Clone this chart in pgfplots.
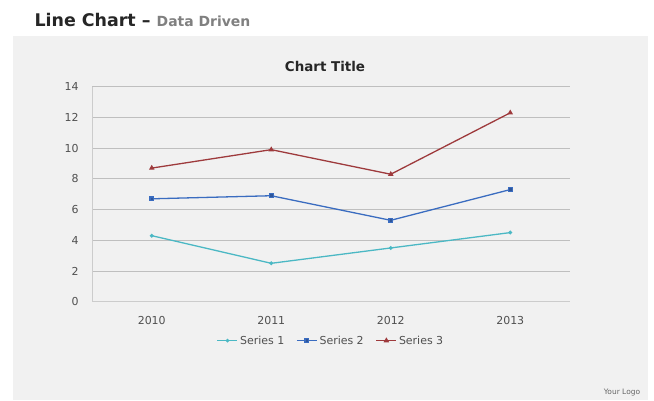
\documentclass[border=0pt]{standalone}
\usepackage{pgfplots}
\pgfplotsset{compat=1.18}
\usepackage{fontspec}
\setmainfont{DejaVu Sans}
\definecolor{panel}{HTML}{F1F1F1}
\definecolor{sone}{HTML}{4BB8C4}
\definecolor{stwo}{HTML}{3A6CC0}
\definecolor{sthree}{HTML}{9E3A3C}
\definecolor{grid}{HTML}{CCCCCC}
\definecolor{ticktxt}{HTML}{505050}
\begin{document}
\begin{tikzpicture}[x=1bp,y=1bp]
\fill[white] (0,0) rectangle (654,400);
\fill[panel] (13,0) rectangle (648,364);
\node[anchor=west,font=\fontsize{17.5}{19}\selectfont\bfseries,text=black!85] at (31,380) {Line Chart \textendash\ \textcolor{black!50}{\fontsize{14}{15}\selectfont Data Driven}};
\node[font=\fontsize{13.5}{15}\selectfont\bfseries,text=black!85] at (325,334) {Chart Title};
\node[font=\fontsize{7.5}{8}\selectfont,text=black!60] at (622,7) {Your Logo};
\begin{axis}[
  at={(92bp,98.3bp)}, anchor=south west,
  scale only axis, width=478bp, height=215bp,
  xmin=-0.5, xmax=3.5, ymin=0, ymax=14,
  xtick={0,1,2,3}, xticklabels={2010,2011,2012,2013},
  ytick={0,2,...,14},
  ymajorgrids, xmajorgrids=false,
  major grid style={grid, line width=0.9pt},
  xtick style={draw=none}, ytick style={draw=none},
  axis x line*=bottom,
  axis y line*=left,
  axis line style={draw=grid, line width=0.9pt, -},
  tick label style={font=\fontsize{11}{12}\selectfont, text=ticktxt},
  /pgf/number format/assume math mode=true,
  xticklabel style={yshift=-11bp},
  yticklabel style={xshift=-10bp},
  legend style={at={(0.5,-0.181)}, anchor=center, draw=none, fill=none,
    legend columns=-1, font=\fontsize{11}{12}\selectfont, text=ticktxt,
    /tikz/every even column/.append style={column sep=10bp}},
  legend image code/.code={\draw[#1] (0bp,0bp) -- (20bp,0bp); \draw[#1,only marks] plot coordinates {(10bp,0bp)};},
]
\addplot[sone, line width=1.3pt, mark=*, mark size=1.2pt] coordinates {(0,4.3) (1,2.5) (2,3.5) (3,4.5)};
\addlegendentry{Series 1}
\addplot[stwo, line width=1.3pt, mark=square*, mark size=1.9pt, mark options={fill=stwo!80!black}] coordinates {(0,6.7) (1,6.9) (2,5.3) (3,7.3)};
\addlegendentry{Series 2}
\addplot[sthree, line width=1.3pt, mark=triangle*, mark size=2pt] coordinates {(0,8.7) (1,9.9) (2,8.3) (3,12.3)};
\addlegendentry{Series 3}
\end{axis}
\end{tikzpicture}
\end{document}
